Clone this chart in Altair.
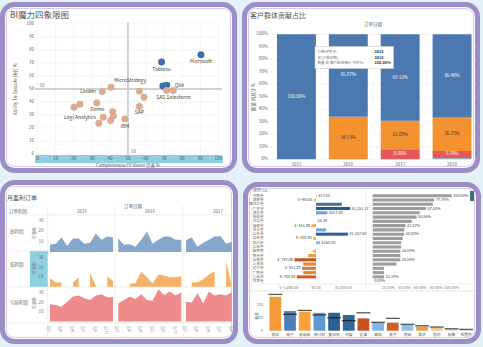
import altair as alt
import pandas as pd

FONT = "Noto Sans CJK SC"
W, H = 483, 347
PURPLE = "#9d8dc6"

# ---------------- Panel 1 : BI magic quadrant ----------------
bi_x = [90.4, 68.6, 71.5, 69.3, 70.2, 40.6, 35.8, 56.3, 58.9, 71.4, 75.1, 32.7, 23.4, 20.1, 41.5, 41.9, 36.3, 33.8, 40.4, 48.3, 56.3]
bi_y = [76.3, 70.7, 53.0, 52.3, 52.0, 51.4, 48.0, 48.3, 43.7, 48.8, 48.8, 39.3, 38.3, 36.0, 32.6, 29.3, 28.3, 23.7, 25.7, 27.0, 36.5]
bi_group = ["领导者"] * 5 + ["其他"] * 16
bi_labels = ["Microsoft", "Tableau", "Qlik", "MicroStrategy", "Looker", "SAS Salesforce", "Domo", "Logi Analytics", "SAP", "IBM"]
bi_lab_x = [90.4, 68.6, 78.4, 51.1, 28.0, 75.1, 33.0, 23.4, 56.3, 48.3]
bi_lab_y = [71.7, 65.3, 53.2, 56.6, 48.1, 43.7, 34.7, 28.3, 32.1, 21.6]
bi_ticks = [0, 10, 20, 30, 40, 50, 60, 70, 80, 90, 100]

# ---------------- Panel 2 : stacked 100% bars ----------------
p2_years = ["2015", "2016", "2017", "2018"]
p2_segments = ["其他", "小型企业", "公司", "消费者"]  # bottom -> top
share_other = [0.0, 0.0, 0.0, 0.96]
share_small = [0.0, 0.0, 8.00, 5.78]
share_corp = [0.0, 34.13, 22.88, 26.78]
share_cons = [100.00, 65.87, 69.12, 66.48]
p2_ticks = [0, 10, 20, 30, 40, 50, 60, 70, 80, 90, 100]

# ---------------- Panel 3 : monthly profit areas ----------------
p3_rows = ["高利润", "低利润", "亏损利润"]
p3_years = ["2015", "2016", "2017"]
hi_2015 = [7, 8, 14, 6, 13, 13, 8, 9, 18, 12, 15, 14]
hi_2016 = [13, 7, 7.5, 5, 12, 20, 8, 12, 15, 15, 12, 12]
hi_2017 = [11.5, 14, 5, 9, 12, 15, 15.5, 8, 10]
lo_2015 = [9, 4.5, 4.5, None, 4.5, 10, None, 14, 1, None, 10.5, 6]
lo_2016 = [None, None, 3, 4, 15.5, 10, 3.5, 13, 12, 10, 10, 11]
lo_2017 = [None, 4.5, 4.5, 8, 13, 16.5, None, 27, 0]
loss_2015 = [18.3, 17.5, 15.7, 21, 26.5, 27.6, 24.7, 22.9, 27.6, 29, 25.8, 26.1]
loss_2016 = [19.4, 22.9, 26.5, 24, 29, 22.9, 22.2, 34.4, 28.3, 31.9, 27.6, 31.2]
loss_2017 = [21, 20.3, 30, 19.4, 31.9, 27.6, 29, 27.6, 31.2]
p3_ticks = [10, 20, 30]
p3_month_ticks = [1, 3, 5, 7, 9, 11]

# ---------------- Panel 4 : provinces ----------------
provinces = ["河南省", "湖南省", "黑龙江省", "广东省", "湖北省", "安徽省", "河北省", "福建省", "浙江省", "山东省", "吉林省",
             "四川省", "江苏省", "陕西省", "贵州省", "云南省", "上海市", "辽宁省", "广西省", "重庆市", "甘肃省"]
prov_profit = [27, -98, 945, 1251.37, 417, 0, 4.39, -161, 368, 1167, -103, 150, 0, -120, -282, -787, -466, -511.33, -466, -704, 0]
profit_labelled = ["河南省", "湖南省", "广东省", "湖北省", "河北省", "福建省", "山东省", "吉林省", "四川省", "云南省", "辽宁省", "重庆市"]
prov_ratio = [100, 77.78, 76, 67.5, 59.5, 55.56, 49.4, 41.57, 40, 40, 38, 36, 36, 35, 35, 35, 30, 14.29, 14.29, 14.29, 0]
ratio_labelled = ["河南省", "湖南省", "广东省", "安徽省", "福建省", "山东省", "陕西省", "云南省", "重庆市", "甘肃省"]
profit_ticks = [-1000, 0, 1000]
ratio_ticks = [20, 40, 60, 80, 100]

sub_names = ["电话", "椅子", "收纳具", "装订机", "复印机", "书架", "设备", "器具", "桌子", "用具", "美术", "信封", "标签", "系固件"]
sub_qty = [261, 151, 146, 138, 138, 121, 95, 62, 62, 44, 31, 23, 13, 2]
sub_target = [279, 126, 156, 121, 100, 77, 138, 64, 95, 49, 38, 28, 15, 10]
sub_colors = ["#f59a35", "#4b7fb6", "#f7a23b", "#5f98cf", "#2c5f93", "#336699", "#c4531c",
              "#80b6e3", "#d25f20", "#90c1e6", "#f29b3c", "#f6c48a", "#efd6b7", "#aaaaaa"]
qty_ticks = [0, 100, 200]


# ---------------- helpers ----------------
def one():
    return alt.InlineData(values=[{"k": 0}])


def txt(s, x, y, size=5.0, color="#666666", align="left", baseline="middle", angle=0, weight="normal"):
    kw = dict(text=s, font=FONT, fontSize=size, color=color, align=align, baseline=baseline, fontWeight=weight)
    if angle:
        kw["angle"] = angle
    return alt.Chart(one()).mark_text(**kw).encode(x=alt.value(x), y=alt.value(y))


def rect(x1, y1, x2, y2, **style):
    return alt.Chart(one()).mark_rect(**style).encode(
        x=alt.value(x1), x2=alt.value(x2), y=alt.value(y1), y2=alt.value(y2))


def hline(x1, x2, y, color="#dddddd", w=0.6):
    return alt.Chart(one()).mark_rule(color=color, strokeWidth=w).encode(
        x=alt.value(x1), x2=alt.value(x2), y=alt.value(y))


def vline(x, y1, y2, color="#dddddd", w=0.6):
    return alt.Chart(one()).mark_rule(color=color, strokeWidth=w).encode(
        x=alt.value(x), y=alt.value(y1), y2=alt.value(y2))


def XQ(field, scale):
    return alt.X(field, type="quantitative", scale=scale, axis=None)


def YQ(field, scale, **kw):
    return alt.Y(field, type="quantitative", scale=scale, axis=None, **kw)


layers = []

# ---------------- frames ----------------
frames = [(2.5, 4.5, 234.5, 170.5), (244.5, 4.5, 477.5, 170.5), (2.5, 182.5, 235.5, 341.5), (245.5, 184.5, 478.5, 341.5)]
for (a, b, c, d) in frames:
    layers.append(rect(a, b, c, d, fill="white", stroke=PURPLE, strokeWidth=5, cornerRadius=12))
    layers.append(rect(a + 4, b + 4, c - 4, d - 4, fill="white", stroke="#c9c0e3", strokeWidth=0.8, cornerRadius=8))

# ---------------- Panel 1 ----------------
p1x = alt.Scale(domain=[0, 100], range=[37.7, 218.3])
p1y = alt.Scale(domain=[0, 100], range=[154, 24])
t1 = pd.DataFrame({"t": bi_ticks})
layers.append(alt.Chart(t1).mark_rule(color="#ededed", strokeWidth=0.6).encode(
    x=XQ("t", p1x), y=alt.value(24), y2=alt.value(154)))
layers.append(alt.Chart(t1).mark_rule(color="#ededed", strokeWidth=0.6).encode(
    y=YQ("t", p1y), x=alt.value(37.7), x2=alt.value(218.3)))
ref = pd.DataFrame({"r": [50]})
layers.append(alt.Chart(ref).mark_rule(color="#c4c4c4", strokeWidth=1.4).encode(
    x=XQ("r", p1x), y=alt.value(22), y2=alt.value(155)))
layers.append(alt.Chart(ref).mark_rule(color="#c4c4c4", strokeWidth=1.4).encode(
    y=YQ("r", p1y), x=alt.value(35), x2=alt.value(222)))
layers.append(rect(35, 155, 222.7, 163.3, fill="#8fd0e0"))
layers.append(alt.Chart(t1).mark_text(font=FONT, fontSize=4.5, color="#666", align="right").encode(
    y=YQ("t", p1y), x=alt.value(34), text="t:Q"))
layers.append(alt.Chart(t1).mark_text(font=FONT, fontSize=4.5, color="#555", align="center").encode(
    x=XQ("t", p1x), y=alt.value(159.2), text="t:Q"))
layers.append(txt("50", 39.5, 86.3, size=4.5, color="#777"))
layers.append(txt("50", 131, 152.3, size=4.5, color="#777"))
pts = pd.DataFrame({"x": bi_x, "y": bi_y, "g": bi_group})
layers.append(alt.Chart(pts).mark_circle(size=48, opacity=1).encode(
    x=XQ("x", p1x), y=YQ("y", p1y),
    color=alt.Color("g:N", scale=alt.Scale(domain=["领导者", "其他"], range=["#3f6fa9", "#dcab90"]), legend=None)))
labs = pd.DataFrame({"x": bi_lab_x, "y": bi_lab_y, "l": bi_labels})
layers.append(alt.Chart(labs).mark_text(font=FONT, fontSize=5, color="#444", align="center").encode(
    x=XQ("x", p1x), y=YQ("y", p1y), text="l:N"))
layers.append(txt("BI魔力四象限图", 10, 14.5, size=8.5, color="#555"))
layers.append(txt("Ability To Execute 执行 %", 16, 89, size=4.5, color="#555", align="center", angle=270))
layers.append(txt("Completeness Of Vision 完善 %", 128, 166.3, size=4.5, color="#555", align="center"))

# ---------------- Panel 2 ----------------
p2x = alt.Scale(domain=p2_years, range=[270.5, 478], paddingInner=0.25, paddingOuter=0.125)
p2y = alt.Scale(domain=[0, 100], range=[159.3, 34.3])
rows = []
for i, yr in enumerate(p2_years):
    for rank, (seg, arr) in enumerate(zip(p2_segments, [share_other, share_small, share_corp, share_cons])):
        rows.append({"year": yr, "seg": seg, "rank": rank, "share": arr[i]})
d2 = pd.DataFrame(rows)
t2 = pd.DataFrame({"t": p2_ticks})
layers.append(alt.Chart(t2).mark_rule(color="#ececec", strokeWidth=0.6).encode(
    y=YQ("t", p2y), x=alt.value(270), x2=alt.value(476)))
layers.append(alt.Chart(t2).transform_calculate(lab="datum.t + '%'").mark_text(
    font=FONT, fontSize=4.5, color="#666", align="right").encode(
    y=YQ("t", p2y), x=alt.value(268), text="lab:N"))
seg_color = alt.Scale(domain=["消费者", "公司", "小型企业", "其他"], range=["#4b78ae", "#f4922f", "#e5575b", "#9bb0b5"])
layers.append(alt.Chart(d2).mark_bar().encode(
    x=alt.X("year:N", scale=p2x, axis=None),
    y=YQ("share", p2y, stack="zero"),
    order=alt.Order("rank:Q", sort="ascending"),
    color=alt.Color("seg:N", scale=seg_color, legend=None)))
lab2 = alt.Chart(d2).transform_stack(
    stack="share", groupby=["year"], sort=[alt.SortField("rank", order="ascending")], as_=["s0", "s1"]
).transform_calculate(mid="(datum.s0 + datum.s1) / 2", lab="format(datum.share, '.2f') + '%'"
).transform_filter("datum.share > 3")
layers.append(lab2.mark_text(font=FONT, fontSize=4.5).encode(
    x=alt.X("year:N", scale=p2x, axis=None), y=YQ("mid", p2y), text="lab:N",
    color=alt.condition("datum.seg == '公司'", alt.value("#333333"), alt.value("white"))))
layers.append(alt.Chart(pd.DataFrame({"year": p2_years})).mark_text(
    font=FONT, fontSize=4.5, color="#666").encode(
    x=alt.X("year:N", scale=p2x, axis=None), y=alt.value(164.5), text="year:N"))
layers.append(txt("客户群体贡献占比", 250, 15.5, size=7, color="#555"))
layers.append(txt("订单日期", 373, 25, size=4.5, color="#666", align="center"))
layers.append(txt("数量 的总计 %", 253.5, 97, size=4.5, color="#666", align="center", angle=270))
# tooltip
layers.append(rect(315, 46.5, 393.5, 68.5, fill="white", stroke="#cccccc", strokeWidth=0.6))
layers.append(txt("订单日期 年:", 317.5, 52, size=3.6, color="#777"))
layers.append(txt("年(订单日期):", 317.5, 57.5, size=3.6, color="#777"))
layers.append(txt("数量 在 客户群体细分 中的%:", 317.5, 63, size=3.6, color="#777"))
layers.append(txt("2015", 374.5, 52, size=3.8, color="#333", weight="bold"))
layers.append(txt("2015", 374.5, 57.5, size=3.8, color="#333", weight="bold"))
layers.append(txt("100.00%", 374.5, 63, size=3.8, color="#333", weight="bold"))

# ---------------- Panel 3 ----------------
p3_data = {
    "高利润": [hi_2015, hi_2016, hi_2017],
    "低利润": [lo_2015, lo_2016, lo_2017],
    "亏损利润": [loss_2015, loss_2016, loss_2017],
}
p3_colors = {"高利润": "#85a7cb", "低利润": "#f5b265", "亏损利润": "#ef8b8c"}
p3_yr = {"高利润": [252, 215.95, 35], "低利润": [286.8, 251.65, 37], "亏损利润": [321.4, 286.8, 37]}
p3_x0 = [50, 118.3, 186]
step = 5.73
layers.append(rect(30, 251, 48, 287, fill="#8ed0de"))
for y in [215, 251, 287, 323]:
    layers.append(hline(7, 233, y, color="#e2e2e2"))
for x in [47.7, 115, 183]:
    layers.append(vline(x, 206, 338, color="#e2e2e2"))
for r in p3_rows:
    y0, y1, top = p3_yr[r]
    ys = alt.Scale(domain=[0, top], range=[y0, y1])
    for j, yr in enumerate(p3_years):
        vals = p3_data[r][j]
        df = pd.DataFrame({"m": list(range(1, len(vals) + 1)), "v": vals})
        xs = alt.Scale(domain=[1, 12], range=[p3_x0[j], p3_x0[j] + 11 * step])
        layers.append(alt.Chart(df).mark_area(color=p3_colors[r], opacity=1, invalid="break-paths-show-domains").encode(
            x=XQ("m", xs), y=YQ("v", ys)))
    tdf = pd.DataFrame({"t": p3_ticks})
    layers.append(alt.Chart(tdf).mark_text(font=FONT, fontSize=4.5, color="#777", align="right").encode(
        y=YQ("t", ys), x=alt.value(43.5), text="t:Q"))
for j, yr in enumerate(p3_years):
    xs = alt.Scale(domain=[1, 12], range=[p3_x0[j], p3_x0[j] + 11 * step])
    mt = [m for m in p3_month_ticks if p3_x0[j] + (m - 1) * step < 232]
    mdf = pd.DataFrame({"m": mt}).assign(lab=lambda d: d["m"].astype(str) + "月")
    layers.append(alt.Chart(mdf).mark_text(font=FONT, fontSize=4, color="#888", angle=270, align="right").encode(
        x=XQ("m", xs), y=alt.value(326), text="lab:N"))
layers.append(txt("月盈利订单", 7, 197.5, size=6, color="#555"))
layers.append(txt("订单日期", 133, 206.5, size=4.5, color="#666", align="center"))
for yr, x in zip(p3_years, [82, 150, 218]):
    layers.append(txt(yr, x, 211.8, size=4.5, color="#666", align="center"))
layers.append(txt("订单利润..", 9, 212, size=4.5, color="#666"))
for r, y in zip(p3_rows, [232, 265, 303]):
    layers.append(txt(r, 10, y, size=4.5, color="#666"))
for y in [233, 268, 303]:
    layers.append(txt("订单数", 35, y, size=4, color="#777", align="center", angle=270))

# ---------------- Panel 4 ----------------
py = alt.Scale(domain=provinces, range=[193.6, 283.3], paddingInner=0.28, paddingOuter=0.14)
pxl = alt.Scale(domain=[-1700, 1700], range=[269.5, 362.5])
pxr = alt.Scale(domain=[0, 100], range=[372.7, 451.7])
d4 = pd.DataFrame({"p": provinces, "v": prov_profit, "r": prov_ratio})
layers.append(vline(252, 190, 290, color="#e4e4e4"))
layers.append(vline(366, 190, 290, color="#e4e4e4"))
layers.append(hline(252, 476, 284, color="#e4e4e4"))
layers.append(hline(248, 476, 291, color="#d8d8d8"))
layers.append(alt.Chart(d4).mark_text(font=FONT, fontSize=3.6, color="#666", align="right").encode(
    y=alt.Y("p:N", scale=py, axis=None), x=alt.value(263.5), text="p:N"))
layers.append(alt.Chart(d4).mark_bar().encode(
    y=alt.Y("p:N", scale=py, axis=None), x=XQ("v", pxl),
    color=alt.Color("v:Q", scale=alt.Scale(domain=[-800, -400, -1, 1, 400, 1250],
                                           range=["#c4521a", "#ee8a32", "#f8c46e", "#a6cbe9", "#6fa3d3", "#2b5a88"]),
                    legend=None)))
lab4 = alt.Chart(d4).transform_filter(alt.FieldOneOfPredicate(field="p", oneOf=profit_labelled)).transform_calculate(
    lab="'¥' + format(datum.v, ',.2f')")
layers.append(lab4.transform_filter("datum.v >= 0").mark_text(font=FONT, fontSize=3.8, color="#444", align="left", dx=1.5).encode(
    y=alt.Y("p:N", scale=py, axis=None), x=XQ("v", pxl), text="lab:N"))
layers.append(lab4.transform_filter("datum.v < 0").mark_text(font=FONT, fontSize=3.8, color="#444", align="right", dx=-1.5).encode(
    y=alt.Y("p:N", scale=py, axis=None), x=XQ("v", pxl), text="lab:N"))
layers.append(alt.Chart(pd.DataFrame({"t": profit_ticks})).transform_calculate(
    lab="'¥' + format(datum.t, ',.2f')").mark_text(font=FONT, fontSize=3.8, color="#777").encode(
    x=XQ("t", pxl), y=alt.value(287.5), text="lab:N"))
layers.append(alt.Chart(d4).mark_bar(color="#9d9d9d").encode(
    y=alt.Y("p:N", scale=py, axis=None), x=XQ("r", pxr)))
lab4r = alt.Chart(d4).transform_filter(alt.FieldOneOfPredicate(field="p", oneOf=ratio_labelled)).transform_calculate(
    lab="format(datum.r, '.2f') + '%'")
layers.append(lab4r.mark_text(font=FONT, fontSize=3.8, color="#444", align="left", dx=1.5).encode(
    y=alt.Y("p:N", scale=py, axis=None), x=XQ("r", pxr), text="lab:N"))
layers.append(alt.Chart(pd.DataFrame({"t": ratio_ticks})).transform_calculate(
    lab="format(datum.t, '.2f') + '%'").mark_text(font=FONT, fontSize=3.8, color="#777").encode(
    x=XQ("t", pxr), y=alt.value(287.5), text="lab:N"))
layers.append(txt("省份 Ca..", 253, 191, size=4, color="#666"))
layers.append(rect(470, 191, 474, 201, fill="#3f6f7f"))

# bottom bullet bars
bx = alt.Scale(domain=sub_names, range=[268, 473.5], paddingInner=0.2, paddingOuter=0.1)
byq = alt.Scale(domain=[0, 300], range=[330.7, 291.7])
d5 = pd.DataFrame({"n": sub_names, "q": sub_qty, "t": sub_target})
layers.append(alt.Chart(d5).mark_bar().encode(
    x=alt.X("n:N", scale=bx, axis=None), y=YQ("q", byq),
    color=alt.Color("n:N", scale=alt.Scale(domain=sub_names, range=sub_colors), legend=None)))
layers.append(alt.Chart(d5).mark_tick(color="#111111", thickness=1.3, size=14).encode(
    x=alt.X("n:N", scale=bx, axis=None), y=YQ("t", byq)))
layers.append(alt.Chart(d5).mark_text(font=FONT, fontSize=3.8, color="#555").encode(
    x=alt.X("n:N", scale=bx, axis=None), y=alt.value(334.8), text="n:N"))
layers.append(alt.Chart(pd.DataFrame({"t": qty_ticks})).mark_text(font=FONT, fontSize=3.8, color="#777", align="right").encode(
    y=YQ("t", byq), x=alt.value(263), text="t:Q"))
layers.append(txt("数量", 257, 316, size=3.8, color="#777", align="center", angle=270))

chart = alt.layer(*layers).resolve_scale(
    x="independent", y="independent", color="independent"
).properties(
    width=W, height=H, padding=0, autosize=alt.AutoSizeParams(type="none"), background="#e3f1f8"
).configure_view(stroke=None)

chart.save("out.html", embed_options={"renderer": "svg", "actions": False})
